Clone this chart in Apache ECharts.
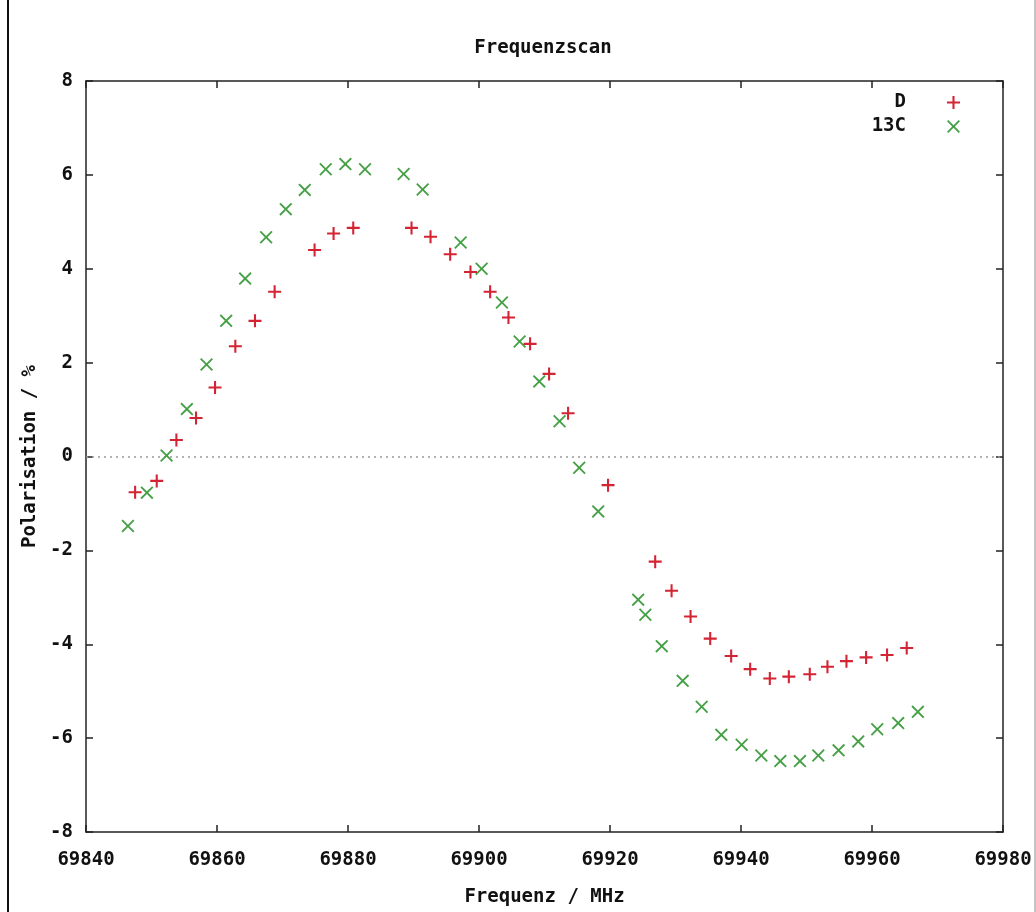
<!DOCTYPE html>
<html>
<head>
<meta charset="utf-8">
<title>Frequenzscan</title>
<script src="https://cdn.jsdelivr.net/npm/echarts@6/dist/echarts.min.js"></script>
<style>
  html, body { margin: 0; padding: 0; background: #ffffff; }
  #chart { width: 1036px; height: 912px; }
</style>
</head>
<body>
<div id="chart"></div>
<script>
// ---- Data ----
const seriesNames = ['D', '13C'];

const dFreq = [69847.5, 69850.8, 69853.8, 69856.8, 69859.7, 69862.8, 69865.8, 69868.8,
  69874.9, 69877.8, 69880.8, 69889.7, 69892.6, 69895.6, 69898.7, 69901.7, 69904.5,
  69907.8, 69910.7, 69913.6, 69919.7, 69926.9, 69929.4, 69932.3, 69935.3, 69938.5,
  69941.4, 69944.4, 69947.3, 69950.5, 69953.2, 69956.1, 69959.1, 69962.3, 69965.3];
const dPol = [-0.76, -0.52, 0.35, 0.82, 1.47, 2.35, 2.89, 3.51,
  4.40, 4.75, 4.87, 4.87, 4.68, 4.31, 3.93, 3.51, 2.96,
  2.40, 1.76, 0.92, -0.61, -2.24, -2.86, -3.41, -3.88, -4.25,
  -4.53, -4.73, -4.69, -4.64, -4.48, -4.36, -4.28, -4.23, -4.08];

const cFreq = [69846.4, 69849.3, 69852.3, 69855.4, 69858.4, 69861.4, 69864.3, 69867.5,
  69870.5, 69873.4, 69876.6, 69879.6, 69882.6, 69888.5, 69891.4, 69897.2, 69900.4,
  69903.5, 69906.2, 69909.2, 69912.3, 69915.3, 69918.2, 69924.3, 69925.4, 69927.9,
  69931.1, 69934.0, 69937.0, 69940.1, 69943.1, 69946.0, 69949.0, 69951.8, 69954.9,
  69957.9, 69960.8, 69964.0, 69967.0];
const cPol = [-1.48, -0.77, 0.02, 1.01, 1.96, 2.89, 3.79, 4.67,
  5.27, 5.68, 6.12, 6.23, 6.12, 6.02, 5.69, 4.56, 4.00,
  3.28, 2.45, 1.60, 0.75, -0.24, -1.17, -3.05, -3.37, -4.04,
  -4.78, -5.33, -5.93, -6.14, -6.37, -6.49, -6.49, -6.37, -6.26,
  -6.07, -5.81, -5.68, -5.44];

const xTicks = { min: 69840, max: 69980, interval: 20 };
const yTicks = { min: -8, max: 8, interval: 2 };

// ---- Styling ----
const FONT = 'DejaVu Sans Mono';
const RED = '#d42332';
const GREEN = '#45a045';
const PLUS = 'path://M4.2,0H5.8V4.2H10V5.8H5.8V10H4.2V5.8H0V4.2H4.2Z';
const CROSS = 'path://M0,1L1,0L5,4L9,0L10,1L6,5L10,9L9,10L5,6L1,10L0,9L4,5Z';

const pairs = (xs, ys) => xs.map((x, i) => [x, ys[i]]);

const axisLineStyle = { color: '#222', width: 1.5 };
const tickStyle = { show: true, inside: true, length: 7, lineStyle: { color: '#222', width: 1.5 } };
const labelStyle = { color: '#111', fontFamily: FONT, fontWeight: 'bold', fontSize: 19 };

const chart = echarts.init(document.getElementById('chart'), null, { renderer: 'canvas' });

chart.setOption({
  backgroundColor: '#ffffff',
  animation: false,
  textStyle: { fontFamily: FONT },
  title: {
    text: 'Frequenzscan',
    left: 538,
    textAlign: 'center',
    top: 34,
    textStyle: { fontFamily: FONT, fontWeight: 'bold', fontSize: 19, color: '#111' }
  },
  legend: {
    orient: 'vertical',
    right: 71,
    top: 88,
    align: 'right',
    itemWidth: 13,
    itemHeight: 13,
    itemGap: 5,
    data: [
      { name: seriesNames[0], icon: PLUS },
      { name: seriesNames[1], icon: CROSS }
    ],
    textStyle: { fontFamily: FONT, fontWeight: 'bold', fontSize: 19, color: '#111',
                 width: 60, align: 'right', padding: [0, 36, 0, 0] }
  },
  grid: { left: 86, right: 33, top: 81, bottom: 75, containLabel: false },
  xAxis: [
    {
      type: 'value', position: 'bottom',
      min: xTicks.min, max: xTicks.max, interval: xTicks.interval,
      name: 'Frequenz / MHz', nameLocation: 'middle', nameGap: 56,
      nameTextStyle: labelStyle,
      axisLine: { show: true, onZero: false, lineStyle: axisLineStyle },
      axisTick: tickStyle,
      axisLabel: Object.assign({ margin: 19, formatter: v => String(v) }, labelStyle),
      splitLine: { show: false }
    },
    {
      type: 'value', position: 'top',
      min: xTicks.min, max: xTicks.max, interval: xTicks.interval,
      axisLine: { show: true, onZero: false, lineStyle: axisLineStyle },
      axisTick: tickStyle,
      axisLabel: { show: false },
      splitLine: { show: false }
    }
  ],
  yAxis: [
    {
      type: 'value', position: 'left',
      min: yTicks.min, max: yTicks.max, interval: yTicks.interval,
      name: 'Polarisation / %', nameLocation: 'middle', nameGap: 42, nameRotate: 90,
      nameTextStyle: labelStyle,
      axisLine: { show: true, onZero: false, lineStyle: axisLineStyle },
      axisTick: tickStyle,
      axisLabel: Object.assign({ margin: 13, formatter: v => String(v) }, labelStyle),
      splitLine: { show: false }
    },
    {
      type: 'value', position: 'right',
      min: yTicks.min, max: yTicks.max, interval: yTicks.interval,
      axisLine: { show: true, onZero: false, lineStyle: axisLineStyle },
      axisTick: tickStyle,
      axisLabel: { show: false },
      splitLine: { show: false }
    }
  ],
  series: [
    {
      name: seriesNames[0],
      type: 'scatter',
      xAxisIndex: 0, yAxisIndex: 0,
      symbol: PLUS,
      symbolSize: 13,
      itemStyle: { color: RED, opacity: 1 },
      data: pairs(dFreq, dPol),
      z: 3,
      markLine: {
        silent: true,
        symbol: 'none',
        label: { show: false },
        lineStyle: { color: '#9a9a9a', type: [2, 4], width: 1.5 },
        data: [{ yAxis: 0 }],
        z: 1
      }
    },
    {
      name: seriesNames[1],
      type: 'scatter',
      xAxisIndex: 0, yAxisIndex: 0,
      symbol: CROSS,
      symbolSize: 13,
      itemStyle: { color: GREEN, opacity: 1 },
      data: pairs(cFreq, cPol),
      z: 2
    }
  ],
  graphic: [
    { type: 'line', shape: { x1: 8, y1: 0, x2: 8, y2: 912 }, style: { stroke: '#111', lineWidth: 2 } },
    { type: 'line', shape: { x1: 1035, y1: 0, x2: 1035, y2: 912 }, style: { stroke: '#888', lineWidth: 1 } }
  ]
});
</script>
</body>
</html>
